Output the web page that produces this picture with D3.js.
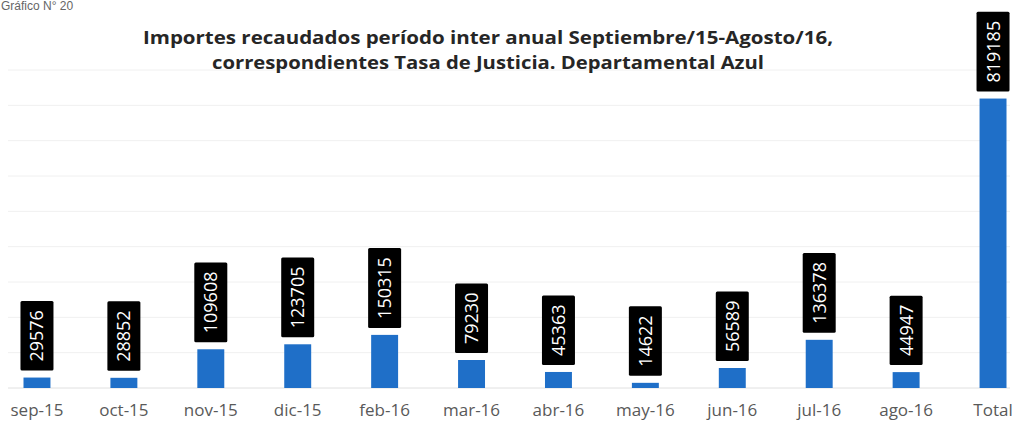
<!DOCTYPE html>
<html>
<head>
<meta charset="utf-8">
<script src="https://cdn.jsdelivr.net/npm/d3@7"></script>
<style>
  body { margin: 0; background: #fff; }
  svg { display: block; }
</style>
</head>
<body>
<div id="chartDiv"></div>
<script>
const months = ["sep-15","oct-15","nov-15","dic-15","feb-16","mar-16","abr-16","may-16","jun-16","jul-16","ago-16","Total"]
const importes = [29576,28852,109608,123705,150315,79230,45363,14622,56589,136378,44947,819185]
const gridTicks = [100000,200000,300000,400000,500000,600000,700000,800000,900000]
const titleLines = ["Importes recaudados período inter anual Septiembre/15-Agosto/16,",
                    "correspondientes Tasa de Justicia. Departamental  Azul"]

function translate(x,y){return `translate(${x}, ${y})`}

const svgWidth = 1015
const svgHeight = 424
const svg = d3.select("div#chartDiv").append("svg").attr("width",svgWidth).attr("height",svgHeight)

const baseY = 388
const topY = 70

const xScale = d3.scaleBand().domain(months).range([23.5,1006.5]).paddingInner(0.69).paddingOuter(0)
const yScale = d3.scaleLinear().domain([0,900000]).range([baseY,topY])

// caption at top left of the scan
svg.append("text").attr("x",1).attr("y",10)
    .attr("font-family","Liberation Sans").attr("font-size",12).attr("fill","#666")
    .text("Gráfico N° 20")

// grid
svg.append("g").selectAll("line").data(gridTicks).enter().append("line")
    .attr("x1",8).attr("x2",1010)
    .attr("y1",d=>yScale(d)).attr("y2",d=>yScale(d))
    .attr("stroke","#f0f0f0").attr("stroke-width",1)
svg.append("line").attr("x1",8).attr("x2",1010)
    .attr("y1",baseY).attr("y2",baseY).attr("stroke","#e0e0e0")

// title
svg.append("g").selectAll("text").data(titleLines).enter().append("text")
    .attr("x",488).attr("y",(d,i)=>44+i*25)
    .attr("text-anchor","middle")
    .attr("font-family","Open Sans").attr("font-weight","bold").attr("font-size",18)
    .attr("fill","#262626")
    .attr("textLength",(d,i)=>i==0?690:552).attr("lengthAdjust","spacingAndGlyphs")
    .text(d=>d)

// bars
const data = months.map((m,i)=>({"kind":m,"val":importes[i]}))
svg.append("g").selectAll("rect").data(data).enter().append("rect")
    .attr("x",d=>xScale(d.kind))
    .attr("y",d=>yScale(d.val))
    .attr("width",xScale.bandwidth())
    .attr("height",d=>baseY-yScale(d.val))
    .attr("fill","#1f6fc8")

// x labels
svg.append("g").selectAll("text").data(months).enter().append("text")
    .attr("x",d=>xScale(d)+xScale.bandwidth()/2)
    .attr("y",416)
    .attr("text-anchor","middle")
    .attr("font-family","Open Sans").attr("font-size",17)
    .attr("fill","#595959")
    .text(d=>d)

// value labels: black box, rotated white text
const labels = svg.append("g").selectAll("g").data(data).enter().append("g")
    .attr("transform",d=>translate(xScale(d.kind)+xScale.bandwidth()/2, yScale(d.val)-7))
labels.each(function(d){
    let g = d3.select(this)
    let t = g.append("text")
        .attr("font-family","Open Sans").attr("font-size",18)
        .attr("fill","#fff")
        .attr("text-anchor","middle")
        .text(d.val)
    let len = t.node().getComputedTextLength()
    let h = len+18
    g.insert("rect","text")
        .attr("x",-16.5).attr("y",-h)
        .attr("width",33).attr("height",h)
        .attr("rx",1.5)
        .attr("fill","#000")
    t.attr("transform",translate(6.5,-h/2)+" rotate(-90)")
})
</script>
</body>
</html>
